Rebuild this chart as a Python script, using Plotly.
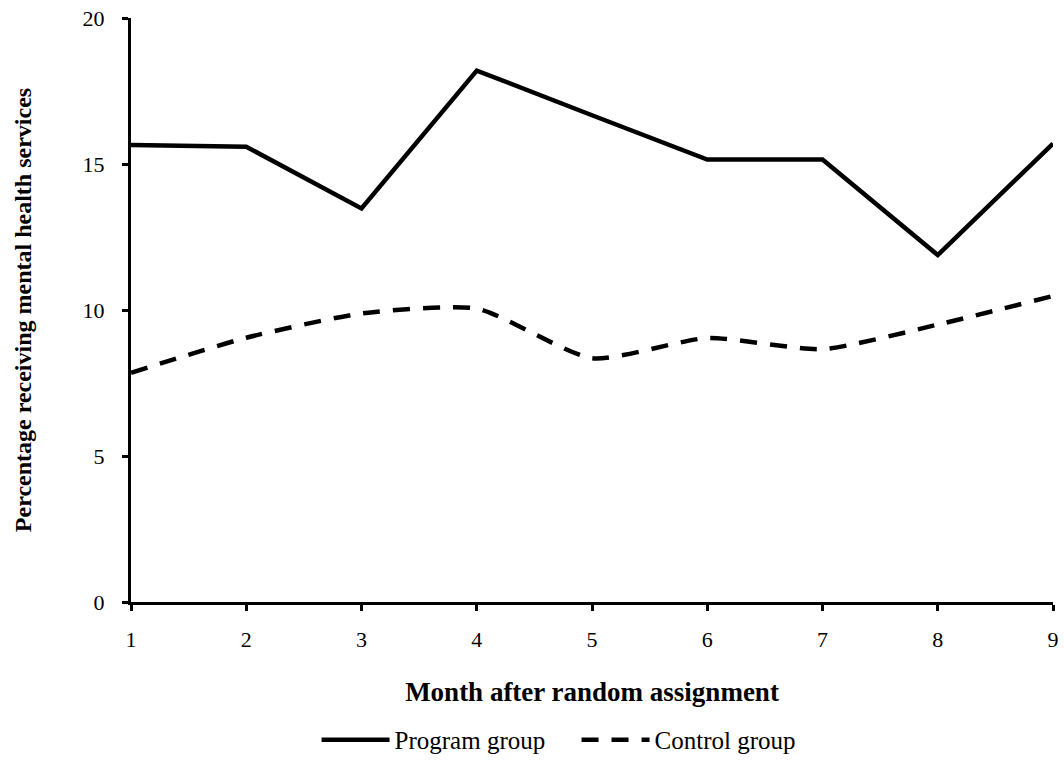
import plotly.graph_objects as go

months = [1, 2, 3, 4, 5, 6, 7, 8, 9]
program_group = [15.65, 15.59, 13.48, 18.2, 16.67, 15.15, 15.15, 11.88, 15.7]
control_group = [7.85, 9.05, 9.88, 10.05, 8.35, 9.04, 8.66, 9.5, 10.48]
y_ticks = [0, 5, 10, 15, 20]

font_family = "Liberation Serif, Times New Roman, serif"

fig = go.Figure()
fig.add_trace(go.Scatter(
    x=months, y=program_group, mode="lines", name="Program group",
    line=dict(color="black", width=4.5),
))
fig.add_trace(go.Scatter(
    x=months, y=control_group, mode="lines", name="Control group",
    line=dict(color="black", width=4.5, dash="17px,13px", shape="spline", smoothing=0.6),
))

fig.update_layout(
    width=1064, height=762,
    paper_bgcolor="white", plot_bgcolor="white",
    margin=dict(l=131, r=11, t=18, b=160),
    font=dict(family=font_family, color="black", size=22),
    showlegend=True,
    legend=dict(
        orientation="h", xref="container", yref="container",
        x=0.2975, xanchor="left", y=0.0289, yanchor="middle",
        font=dict(family=font_family, size=25, color="black"),
        itemwidth=68, entrywidth=177, tracegroupgap=0,
        bgcolor="rgba(0,0,0,0)",
    ),
    xaxis=dict(
        range=[1, 9], tickvals=months, ticktext=[str(m) for m in months],
        showline=True, linecolor="black", linewidth=3,
        ticks="outside", ticklen=6, tickwidth=3, tickcolor="black",
        ticklabelstandoff=10, ticklabeloverflow="allow", automargin=False,
        showgrid=False, zeroline=False,
        tickfont=dict(family=font_family, size=22, color="black"),
        title=dict(text="<b>Month after random assignment</b>", standoff=31,
                   font=dict(family=font_family, size=27, color="black")),
    ),
    yaxis=dict(
        range=[0, 20], tickvals=y_ticks,
        showline=True, linecolor="black", linewidth=3,
        ticks="outside", ticklen=6, tickwidth=3, tickcolor="black",
        ticklabelstandoff=13, ticklabeloverflow="allow", automargin=False,
        showgrid=False, zeroline=False,
        tickfont=dict(family=font_family, size=22, color="black"),
        title=dict(text="<b>Percentage receiving mental health services</b>", standoff=45,
                   font=dict(family=font_family, size=24, color="black")),
    ),
)

fig.write_html(
    "out.html",
    config={"displayModeBar": False},
    post_script="document.body.style.margin='0'; document.body.style.overflow='hidden';",
)
